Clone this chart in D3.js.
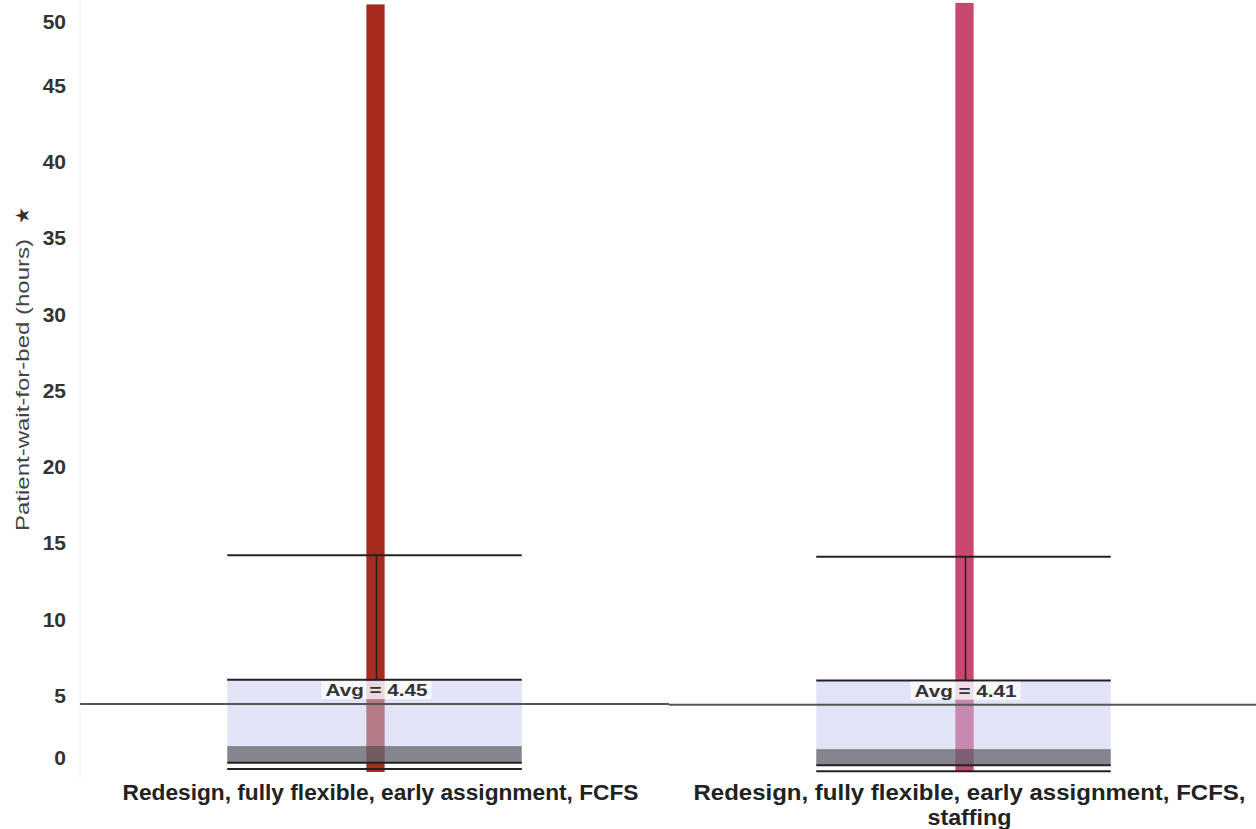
<!DOCTYPE html>
<html>
<head>
<meta charset="utf-8">
<script src="https://cdn.jsdelivr.net/npm/d3@7"></script>
<style>
  html, body { margin: 0; padding: 0; background: #fff; }
  svg { display: block; font-family: "Liberation Sans", Arial, sans-serif; }
</style>
</head>
<body>
<svg id="chart"></svg>
<script>
const categories = [
  "Redesign, fully flexible, early assignment, FCFS",
  "Redesign, fully flexible, early assignment, FCFS, staffing"
];
// label lines under each pane
const categoryLines = [
  ["Redesign, fully flexible, early assignment, FCFS"],
  ["Redesign, fully flexible, early assignment, FCFS,", "staffing"]
];
const maxWait = [50.3, 50.4];
const whiskerHigh = [14.2, 14.1];
const upperQuartile = [6.05, 6.0];
const median = [1.7, 1.5];
const lowerQuartile = [0.6, 0.45];
const whiskerLow = [0.2, 0.05];
const averages = [4.45, 4.41];
const barColors = ["#a72c1f", "#c8476f"];
const yTicks = [0, 5, 10, 15, 20, 25, 30, 35, 40, 45, 50];

const width = 1256, height = 829;
const svg = d3.select("#chart").attr("width", width).attr("height", height);

const y = d3.scaleLinear().domain([0, 50]).range([772, 9]);
const x = d3.scaleBand().domain(categories).range([80, 1258]);
const bw = x.bandwidth();

// axis rule
svg.append("line")
  .attr("x1", 80).attr("x2", 80).attr("y1", 0).attr("y2", 777)
  .attr("stroke", "#e2e2e2").attr("stroke-dasharray", "2,2");

// tick labels, ends pulled into view like the original
svg.append("g").selectAll("text").data(yTicks).join("text")
  .attr("x", 66)
  .attr("y", d => Math.max(22, Math.min(758, y(d))))
  .attr("dy", "0.35em")
  .attr("text-anchor", "end")
  .attr("font-size", 21).attr("font-weight", "bold").attr("fill", "#333")
  .text(d => d);

// axis title
const title = svg.append("g").attr("transform", "translate(22,385) rotate(-90)");
title.append("text")
  .attr("text-anchor", "middle").attr("dy", "0.35em")
  .attr("font-size", 19).attr("fill", "#444")
  .attr("textLength", 292).attr("lengthAdjust", "spacingAndGlyphs")
  .text("Patient-wait-for-bed (hours)");
title.append("text")
  .attr("x", 170).attr("dy", "0.35em").attr("text-anchor", "middle")
  .attr("font-size", 19).attr("fill", "#333")
  .text("★");

const panes = svg.append("g").selectAll("g").data(categories).join("g")
  .attr("transform", d => `translate(${x(d)},0)`);

const barW = bw * 0.031;
const boxL = bw * 0.25, boxR = bw * 0.75, cx = bw / 2;

panes.append("rect")
  .attr("x", cx - barW / 2 + 1).attr("width", barW)
  .attr("y", (d, i) => y(maxWait[i]))
  .attr("height", (d, i) => y(0) - y(maxWait[i]))
  .attr("fill", (d, i) => barColors[i]);

// upper box (Q3 to median)
panes.append("rect")
  .attr("x", boxL).attr("width", boxR - boxL)
  .attr("y", (d, i) => y(upperQuartile[i]))
  .attr("height", (d, i) => y(median[i]) - y(upperQuartile[i]))
  .attr("fill", "#c4caee").attr("fill-opacity", 0.5);

// lower box (median to Q1)
panes.append("rect")
  .attr("x", boxL).attr("width", boxR - boxL)
  .attr("y", (d, i) => y(median[i]))
  .attr("height", (d, i) => y(lowerQuartile[i]) - y(median[i]))
  .attr("fill", "#666670").attr("fill-opacity", 0.8);

// whisker stem
panes.append("line")
  .attr("x1", cx + 2).attr("x2", cx + 2)
  .attr("y1", (d, i) => y(whiskerHigh[i]))
  .attr("y2", (d, i) => y(upperQuartile[i]))
  .attr("stroke", "#222").attr("stroke-width", 1.5);

// horizontal rules: whisker caps and quartile edges
[whiskerHigh, upperQuartile, lowerQuartile, whiskerLow].forEach(arr => {
  panes.append("line")
    .attr("x1", boxL).attr("x2", boxR)
    .attr("y1", (d, i) => y(arr[i])).attr("y2", (d, i) => y(arr[i]))
    .attr("stroke", "#222").attr("stroke-width", 2);
});

// average reference line
panes.append("line")
  .attr("x1", 0).attr("x2", bw)
  .attr("y1", (d, i) => y(averages[i])).attr("y2", (d, i) => y(averages[i]))
  .attr("stroke", "#555").attr("stroke-width", 2);

// average label
panes.append("rect")
  .attr("x", cx - 53).attr("width", 110)
  .attr("y", (d, i) => y(averages[i]) - 23).attr("height", 18)
  .attr("fill", "#fff").attr("fill-opacity", 0.72);
panes.append("text")
  .attr("x", cx + 2)
  .attr("y", (d, i) => y(averages[i]) - 14)
  .attr("dy", "0.35em").attr("text-anchor", "middle")
  .attr("font-size", 17).attr("font-weight", "bold").attr("fill", "#333")
  .attr("textLength", 102).attr("lengthAdjust", "spacingAndGlyphs")
  .text((d, i) => "Avg = " + averages[i]);

// category labels
panes.append("text")
  .attr("x", cx + 6).attr("y", 792)
  .attr("text-anchor", "middle")
  .attr("font-size", 22).attr("font-weight", "bold").attr("fill", "#222")
  .selectAll("tspan").data((d, i) => categoryLines[i]).join("tspan")
  .attr("x", cx + 6).attr("dy", (d, j) => j === 0 ? "0.35em" : 25)
  .attr("textLength", d => d.length > 10 ? (d.endsWith(",") ? 552 : 516) : 84)
  .attr("lengthAdjust", "spacingAndGlyphs")
  .text(d => d);
</script>
</body>
</html>
